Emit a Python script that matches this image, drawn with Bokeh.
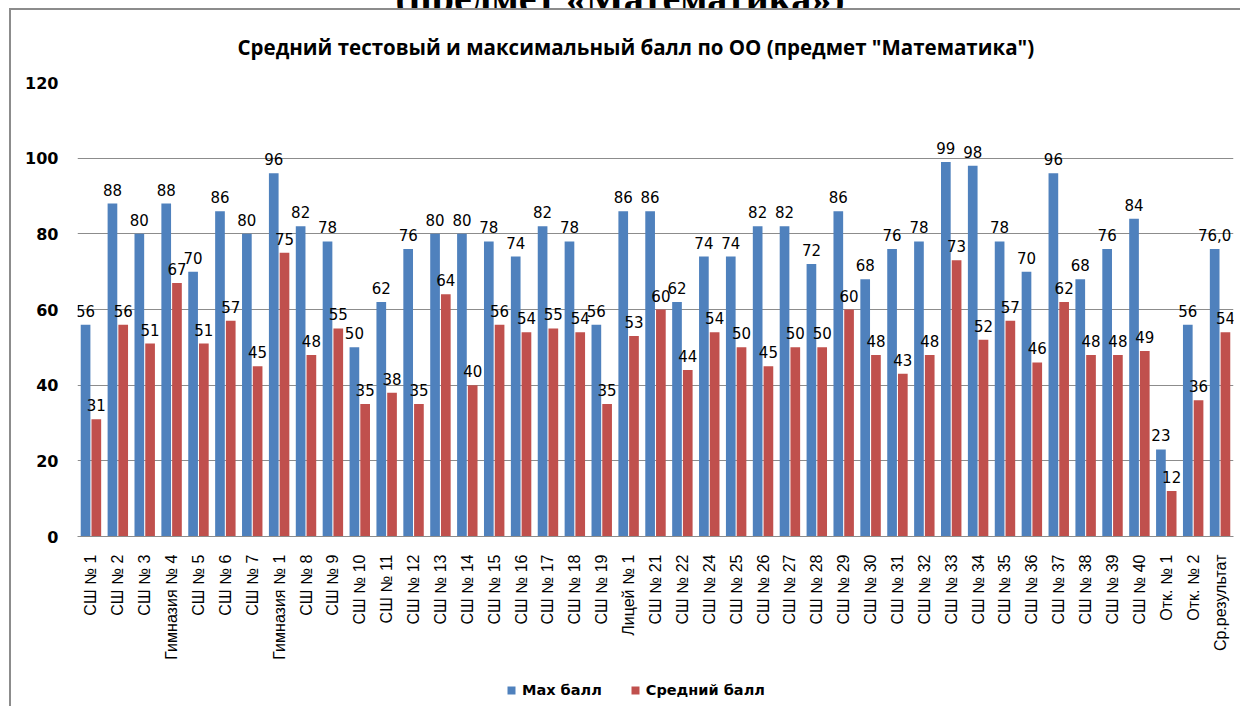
from math import pi
from bokeh.plotting import figure
from bokeh.layouts import column
from bokeh.models import (ColumnDataSource, FactorRange, Range1d, Legend, LegendItem,
                          FixedTicker, Div)
from bokeh.transform import dodge
from bokeh.embed import file_html
from bokeh.resources import INLINE

schools = ["СШ № 1", "СШ № 2", "СШ № 3", "Гимназия № 4", "СШ № 5", "СШ № 6", "СШ № 7",
           "Гимназия № 1", "СШ № 8", "СШ № 9", "СШ № 10", "СШ № 11", "СШ № 12", "СШ № 13",
           "СШ № 14", "СШ № 15", "СШ № 16", "СШ № 17", "СШ № 18", "СШ № 19", "Лицей № 1",
           "СШ № 21", "СШ № 22", "СШ № 24", "СШ № 25", "СШ № 26", "СШ № 27", "СШ № 28",
           "СШ № 29", "СШ № 30", "СШ № 31", "СШ № 32", "СШ № 33", "СШ № 34", "СШ № 35",
           "СШ № 36", "СШ № 37", "СШ № 38", "СШ № 39", "СШ № 40", "Отк. № 1", "Отк. № 2",
           "Ср.результат"]

max_score = [56, 88, 80, 88, 70, 86, 80, 96, 82, 78, 50, 62, 76, 80, 80, 78, 74, 82, 78, 56,
             86, 86, 62, 74, 74, 82, 82, 72, 86, 68, 76, 78, 99, 98, 78, 70, 96, 68, 76, 84,
             23, 56, 76.0]

avg_score = [31, 56, 51, 67, 51, 57, 45, 75, 48, 55, 35, 38, 35, 64, 40, 56, 54, 55, 54, 35,
             53, 60, 44, 54, 50, 45, 50, 50, 60, 48, 43, 48, 73, 52, 57, 46, 62, 48, 48, 49,
             12, 36, 54]

y_ticks = [0, 20, 40, 60, 80, 100, 120]

series_names = ["Max балл", "Средний балл"]
chart_title = 'Средний тестовый и максимальный балл по ОО (предмет "Математика")'
page_heading = "(предмет «Математика»)"

max_txt = [f"{v:.0f}" for v in max_score[:-1]] + [f"{max_score[-1]:.1f}".replace(".", ",")]
avg_txt = [f"{v:.0f}" for v in avg_score]

src = ColumnDataSource(dict(school=schools, mx=max_score, av=avg_score,
                            mx_txt=max_txt, av_txt=avg_txt))

BLUE = "#4F81BD"
RED = "#C0504D"
GRID = "#8c8c8c"
W = 1240

head = Div(text=('<div style="width:1200px;font-family:\'Liberation Serif\';font-weight:bold;'
                 'font-size:40px;line-height:40px;text-align:center;white-space:nowrap;'
                 'margin-top:-28px;padding-left:40px;color:black;">' + page_heading + '</div>'),
           width=W, height=8, margin=0, styles={"overflow": "hidden"})

frame_css = {
    "background-image": "linear-gradient(#8c8c8c, #8c8c8c), linear-gradient(#8c8c8c, #8c8c8c)",
    "background-size": "2px 100%, 100% 2px",
    "background-position": "9px 0px, 9px 0px",
    "background-repeat": "no-repeat",
}
left_css = {
    "background-image": "linear-gradient(#8c8c8c, #8c8c8c)",
    "background-size": "2px 100%",
    "background-position": "9px 0px",
    "background-repeat": "no-repeat",
}

p = figure(width=W, height=664,
           x_range=FactorRange(factors=schools, range_padding=0),
           y_range=Range1d(0, 120),
           title=chart_title,
           output_backend="svg", toolbar_location=None,
           min_border_left=77, min_border_right=7, min_border_top=73, min_border_bottom=136,
           styles=frame_css)
p.outline_line_color = None
p.background_fill_color = "white"
p.border_fill_color = None

p.title.align = "left"
p.title.offset = 160
p.title.text_font = "Open Sans"
p.title.text_font_style = "bold"
p.title.text_font_size = "20.5px"
p.title.text_color = "black"
p.title.standoff = 44

blue = p.vbar(x=dodge("school", -0.2, range=p.x_range), top="mx", width=0.36, source=src,
              fill_color=BLUE, line_color=None)
red = p.vbar(x=dodge("school", 0.2, range=p.x_range), top="av", width=0.36, source=src,
             fill_color=RED, line_color=None)

p.text(x=dodge("school", -0.2, range=p.x_range), y="mx", text="mx_txt", source=src,
       text_align="center", text_baseline="alphabetic", y_offset=-14,
       text_font={"value": "DejaVu Sans"}, text_font_size="15px", text_color="black")
p.text(x=dodge("school", 0.2, range=p.x_range), y="av", text="av_txt", source=src,
       text_align="center", text_baseline="alphabetic", y_offset=-14,
       text_font={"value": "DejaVu Sans"}, text_font_size="15px", text_color="black")

p.xgrid.grid_line_color = None
p.ygrid.grid_line_color = GRID
p.ygrid.grid_line_width = 1

p.yaxis.ticker = FixedTicker(ticks=y_ticks)
p.yaxis.axis_line_color = None
p.yaxis.major_tick_line_color = None
p.yaxis.minor_tick_line_color = None
p.yaxis.major_label_standoff = 13
p.yaxis.major_label_text_font = "DejaVu Sans"
p.yaxis.major_label_text_font_style = "bold"
p.yaxis.major_label_text_font_size = "16px"
p.yaxis.major_label_text_color = "black"

p.xaxis.major_label_orientation = pi / 2
p.xaxis.axis_line_color = GRID
p.xaxis.major_tick_line_color = None
p.xaxis.minor_tick_line_color = None
p.xaxis.major_label_standoff = 12
p.xaxis.major_label_text_font = "Liberation Sans"
p.xaxis.major_label_text_font_size = "16px"
p.xaxis.major_label_text_color = "black"

# legend strip below the chart (its bars lie outside its visible y range)
leg = figure(width=W, height=34, x_range=FactorRange(factors=schools, range_padding=0),
             y_range=Range1d(500, 501),
             output_backend="svg", toolbar_location=None,
             x_axis_location=None, y_axis_location=None,
             min_border_left=77, min_border_right=7, min_border_top=0, min_border_bottom=0,
             styles=left_css)
leg.grid.visible = False
leg.outline_line_color = None
leg.background_fill_color = None
leg.border_fill_color = None
lb = leg.vbar(x=dodge("school", -0.2, range=leg.x_range), top="mx", width=0.36, source=src,
              fill_color=BLUE, line_color=None)
lr = leg.vbar(x=dodge("school", 0.2, range=leg.x_range), top="av", width=0.36, source=src,
              fill_color=RED, line_color=None)

legend = Legend(items=[LegendItem(label=series_names[0], renderers=[lb]),
                       LegendItem(label=series_names[1], renderers=[lr])],
                orientation="horizontal", location=(429, 8),
                label_text_font="DejaVu Sans", label_text_font_style="bold",
                label_text_font_size="14.5px", label_text_color="black",
                glyph_width=10, glyph_height=10, label_standoff=6, spacing=28,
                padding=0, margin=0,
                border_line_color=None, background_fill_alpha=0)
leg.add_layout(legend)

layout = column(head, p, leg, spacing=0)

open("out.html", "w").write(file_html(layout, INLINE))
